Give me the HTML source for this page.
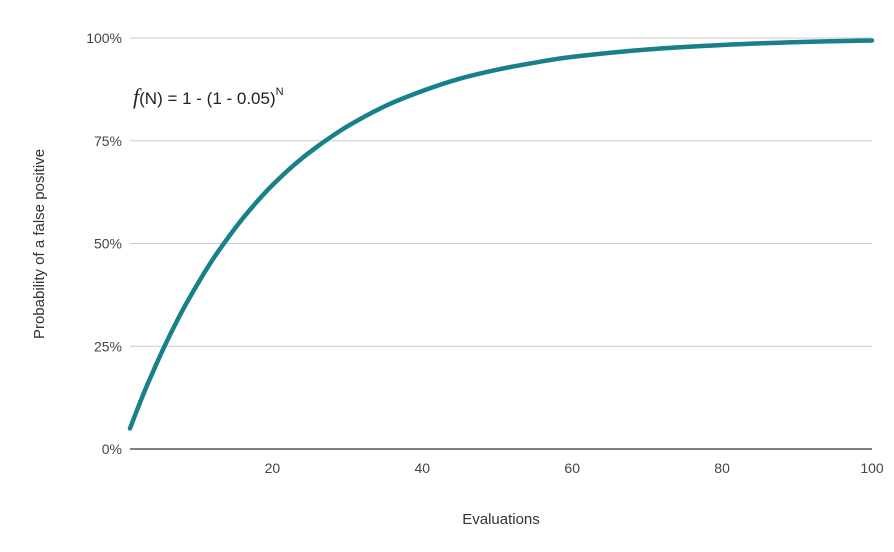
<!DOCTYPE html>
<html><head><meta charset="utf-8"><style>
body{margin:0;background:#fff;}
svg text{font-family:"Liberation Sans",sans-serif;}
</style></head><body>
<svg id="chart" width="894" height="547">
<g id="grid"></g><g id="yt"></g><g id="xt"></g>
<text x="501" y="524" text-anchor="middle" font-size="15" fill="#333">Evaluations</text>
<text transform="translate(44,244) rotate(-90)" text-anchor="middle" font-size="15" fill="#333">Probability of a false positive</text>
<text x="133" y="104" font-size="17" fill="#222"><tspan font-style="italic" font-size="22" font-family="Liberation Serif">f</tspan>(N) = 1 - (1  - 0.05)<tspan font-size="11" dy="-9">N</tspan></text>
<path id="line" fill="none" stroke="#17808a" stroke-width="4.5" stroke-linejoin="round" stroke-linecap="round"></path>
</svg>
<script>
const nValues=[1,2,3,4,5,6,8,10,12,14,16,18,20,23,26,30,35,40,45,50,55,60,70,80,90,100];
const probValues=[5,9.75,14.3,18.5,22.6,26.5,33.7,40.1,46.0,51.2,56.0,60.3,64.2,69.3,73.6,78.5,83.4,87.1,90.1,92.3,94.0,95.4,97.2,98.3,99.0,99.4];
const yTicks=[0,25,50,75,100];
const xTicks=[20,40,60,80,100];
const L=130,R=872,T=38,B=449;
const x=v=>L+(v-1)/99*(R-L);
const y=v=>B-v/100*(B-T);
const ns="http://www.w3.org/2000/svg";
const g=document.getElementById('grid'),yt=document.getElementById('yt'),xt=document.getElementById('xt');
yTicks.forEach(t=>{
 const l=document.createElementNS(ns,'line');
 
 
 l.setAttribute('x1',L);l.setAttribute('x2',R);l.setAttribute('y1',y(t));l.setAttribute('y2',y(t));
 l.setAttribute('stroke',t===0?'#333':'#ccc');l.setAttribute('stroke-width',t===0?1.2:1);
 g.appendChild(l);
 const tx=document.createElementNS(ns,'text');
 
 
 tx.setAttribute('x',L-8);tx.setAttribute('y',y(t)+5);tx.setAttribute('text-anchor','end');
 tx.setAttribute('font-size','14');tx.setAttribute('fill','#444');tx.textContent=t+'%';
 yt.appendChild(tx);
});
xTicks.forEach(t=>{
 const tx=document.createElementNS(ns,'text');
 
 
 tx.setAttribute('x',x(t));tx.setAttribute('y',B+24);tx.setAttribute('text-anchor','middle');
 tx.setAttribute('font-size','14');tx.setAttribute('fill','#444');tx.textContent=t;
 xt.appendChild(tx);
});
const pts=nValues.map((n,i)=>[x(n),y(probValues[i])]);
let d='M'+pts[0][0]+','+pts[0][1];
for(let i=0;i<pts.length-1;i++){
 const p0=pts[i-1]||pts[i],p1=pts[i],p2=pts[i+1],p3=pts[i+2]||p2;
 const c1=[p1[0]+(p2[0]-p0[0])/6,p1[1]+(p2[1]-p0[1])/6];
 const c2=[p2[0]-(p3[0]-p1[0])/6,p2[1]-(p3[1]-p1[1])/6];
 d+=` C${c1[0]},${c1[1]} ${c2[0]},${c2[1]} ${p2[0]},${p2[1]}`;
}
document.getElementById('line').setAttribute('d',d);
</script>
</body></html>
